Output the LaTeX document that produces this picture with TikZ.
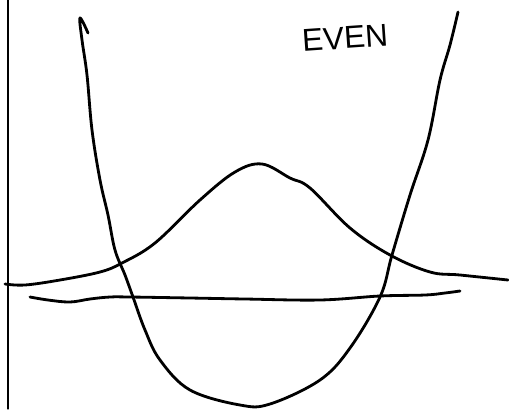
\documentclass[tikz,border=0pt]{standalone}
\usepackage{fontspec}
\setmainfont{Liberation Sans}
\usepackage{tikz}
\usetikzlibrary{positioning}

\begin{document}
\begin{tikzpicture}[x=0.02cm, y=-0.02cm, line join=round, line cap=round]
                \useasboundingbox (0,0) rectangle (509,409);
                % Axis
                \draw[line width=0.6pt] (8,0) -- (8,409);
                \draw[line width=1.6pt] plot[smooth, tension=0.6] coordinates {(30,297) (48,300) (70,302) (90,299) (110,297) (130,297) (190,298) (245,299) (320,300) (380,296) (425,295) (445,293) (460,291)};
                % Bell
                \draw[line width=1.6pt] plot[smooth, tension=0.6] coordinates {(5,284) (25,285) (60,280) (100,272) (122,263) (155,243) (200,200) (235,172) (262,164) (290,178) (310,188) (350,228) (390,255) (430,272) (460,275) (508,280)};
                % Well
                \draw[line width=1.6pt] plot[smooth, tension=0.6] coordinates {(88,33) (80,18) (82,40) (87,75) (92,130) (100,180) (108,215) (115,250) (125,275) (133,297) (145,330) (160,360) (190,390) (240,405) (270,404) (320,380) (350,348) (380,297) (392,255) (410,195) (428,140) (440,80) (450,45) (458,12)};
                % Label
                \node[font=\fontsize{18}{20}\selectfont, rotate=4] (even) at (345,38) {EVEN};
            \end{tikzpicture}
\end{document}
